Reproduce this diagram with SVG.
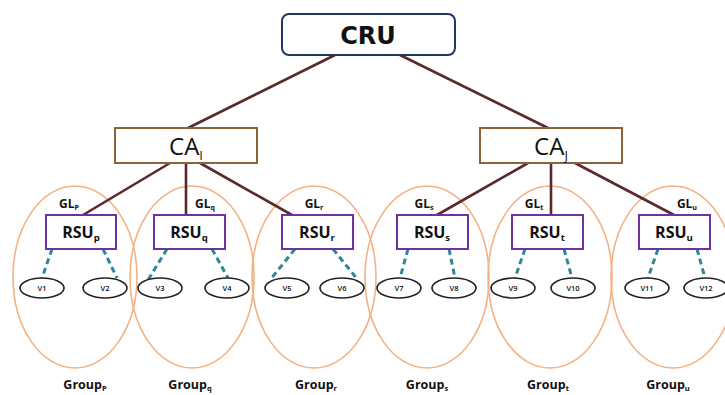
<svg xmlns="http://www.w3.org/2000/svg" width="725" height="395" viewBox="0 0 725 395">
<style>
text{font-family:"Open Sans","Liberation Sans",sans-serif;fill:#111}
.grp{fill:none;stroke:#f4b183;stroke-width:1.6}
.tree{stroke:#5a2a2a;stroke-width:2.6;fill:none}
.dash{stroke:#31859c;stroke-width:3;stroke-dasharray:6,4;fill:none}
.rsu{fill:#fff;stroke:#7030a0;stroke-width:2}
.ca{fill:#fff;stroke:#8c6239;stroke-width:2}
.v{fill:#fff;stroke:#222;stroke-width:1.6}
.rt{font-size:16px;font-weight:bold;text-anchor:middle}
.gl{font-size:12px;font-weight:bold;text-anchor:middle}
.vt{font-size:7.5px;font-weight:600;text-anchor:middle}
.gt{font-size:12.5px;font-weight:bold;text-anchor:middle}
.sub{font-size:0.6em}
</style>
<rect width="725" height="395" fill="#fff"/>
<g id="groups">
<ellipse class="grp" cx="75" cy="277" rx="62" ry="91"/>
<ellipse class="grp" cx="192" cy="277" rx="62" ry="91"/>
<ellipse class="grp" cx="314" cy="277" rx="62" ry="91"/>
<ellipse class="grp" cx="427" cy="277" rx="62" ry="91"/>
<ellipse class="grp" cx="550" cy="277" rx="62" ry="91"/>
<ellipse class="grp" cx="673" cy="277" rx="62" ry="91"/>
</g>
<g id="connectors">
<line class="tree" x1="335" y1="55" x2="188" y2="128"/>
<line class="tree" x1="400" y1="55" x2="548" y2="128"/>
<line class="tree" x1="170" y1="163" x2="83" y2="215"/>
<line class="tree" x1="186" y1="163" x2="186" y2="215"/>
<line class="tree" x1="200" y1="163" x2="292" y2="215"/>
<line class="tree" x1="528" y1="163" x2="437" y2="215"/>
<line class="tree" x1="551" y1="163" x2="551" y2="215"/>
<line class="tree" x1="575" y1="163" x2="674" y2="215"/>
<line class="dash" x1="52" y1="249" x2="42" y2="278"/>
<line class="dash" x1="103" y1="249" x2="117" y2="278"/>
<line class="dash" x1="167" y1="249" x2="148" y2="280"/>
<line class="dash" x1="212" y1="249" x2="228" y2="278"/>
<line class="dash" x1="295" y1="249" x2="270" y2="280"/>
<line class="dash" x1="333" y1="249" x2="358" y2="280"/>
<line class="dash" x1="408" y1="249" x2="400" y2="278"/>
<line class="dash" x1="449" y1="249" x2="455" y2="278"/>
<line class="dash" x1="525" y1="249" x2="515" y2="278"/>
<line class="dash" x1="564" y1="249" x2="572" y2="278"/>
<line class="dash" x1="658" y1="249" x2="648" y2="278"/>
<line class="dash" x1="697" y1="249" x2="705" y2="278"/>
</g>
<g id="CRU">
<rect x="282" y="14" width="173" height="41" rx="7" fill="#fff" stroke="#1f3864" stroke-width="2"/>
<text x="368" y="44" style="font-family:'DejaVu Sans',sans-serif;font-size:24px;font-weight:bold;text-anchor:middle">CRU</text>
</g>
<g id="CA_I">
<rect class="ca" x="115" y="128" width="142" height="35"/>
<text x="186" y="155" style="font-size:24px;text-anchor:middle">CA<tspan dy="5" style="font-size:13px">I</tspan></text>
</g>
<g id="CA_J">
<rect class="ca" x="480" y="128" width="142" height="35"/>
<text x="551" y="155" style="font-size:24px;text-anchor:middle">CA<tspan dy="5" style="font-size:13px">J</tspan></text>
</g>
<g id="RSU_p"><rect class="rsu" x="46" y="215" width="70" height="34"/><text class="rt" x="81" y="238">RSU<tspan class="sub" dy="3">p</tspan></text><text class="gl" x="69" y="208">GL<tspan class="sub" dy="2">P</tspan></text></g>
<g id="RSU_q"><rect class="rsu" x="154" y="215" width="71" height="34"/><text class="rt" x="189" y="238">RSU<tspan class="sub" dy="3">q</tspan></text><text class="gl" x="205" y="208">GL<tspan class="sub" dy="2">q</tspan></text></g>
<g id="RSU_r"><rect class="rsu" x="282" y="215" width="71" height="34"/><text class="rt" x="317" y="238">RSU<tspan class="sub" dy="3">r</tspan></text><text class="gl" x="314" y="208">GL<tspan class="sub" dy="2">r</tspan></text></g>
<g id="RSU_s"><rect class="rsu" x="397" y="215" width="71" height="34"/><text class="rt" x="432" y="238">RSU<tspan class="sub" dy="3">s</tspan></text><text class="gl" x="424" y="208">GL<tspan class="sub" dy="2">s</tspan></text></g>
<g id="RSU_t"><rect class="rsu" x="512" y="215" width="71" height="34"/><text class="rt" x="547" y="238">RSU<tspan class="sub" dy="3">t</tspan></text><text class="gl" x="534" y="208">GL<tspan class="sub" dy="2">t</tspan></text></g>
<g id="RSU_u"><rect class="rsu" x="639" y="215" width="71" height="34"/><text class="rt" x="674" y="238">RSU<tspan class="sub" dy="3">u</tspan></text><text class="gl" x="687" y="208">GL<tspan class="sub" dy="2">u</tspan></text></g>
<g id="V1"><ellipse class="v" cx="42" cy="288" rx="22" ry="10"/><text class="vt" x="42" y="291">V1</text></g>
<g id="V2"><ellipse class="v" cx="105" cy="288" rx="22" ry="10"/><text class="vt" x="105" y="291">V2</text></g>
<g id="V3"><ellipse class="v" cx="160" cy="288" rx="22" ry="10"/><text class="vt" x="160" y="291">V3</text></g>
<g id="V4"><ellipse class="v" cx="227" cy="288" rx="22" ry="10"/><text class="vt" x="227" y="291">V4</text></g>
<g id="V5"><ellipse class="v" cx="287" cy="288" rx="22" ry="10"/><text class="vt" x="287" y="291">V5</text></g>
<g id="V6"><ellipse class="v" cx="342" cy="288" rx="22" ry="10"/><text class="vt" x="342" y="291">V6</text></g>
<g id="V7"><ellipse class="v" cx="399" cy="288" rx="22" ry="10"/><text class="vt" x="399" y="291">V7</text></g>
<g id="V8"><ellipse class="v" cx="454" cy="288" rx="22" ry="10"/><text class="vt" x="454" y="291">V8</text></g>
<g id="V9"><ellipse class="v" cx="513" cy="288" rx="22" ry="10"/><text class="vt" x="513" y="291">V9</text></g>
<g id="V10"><ellipse class="v" cx="573" cy="288" rx="22" ry="10"/><text class="vt" x="573" y="291">V10</text></g>
<g id="V11"><ellipse class="v" cx="647" cy="288" rx="22" ry="10"/><text class="vt" x="647" y="291">V11</text></g>
<g id="V12"><ellipse class="v" cx="706" cy="288" rx="22" ry="10"/><text class="vt" x="706" y="291">V12</text></g>
<g id="labels">
<text class="gt" x="85" y="389">Group<tspan class="sub" dy="2">P</tspan></text>
<text class="gt" x="190" y="389">Group<tspan class="sub" dy="2">q</tspan></text>
<text class="gt" x="316" y="389">Group<tspan class="sub" dy="2">r</tspan></text>
<text class="gt" x="427" y="389">Group<tspan class="sub" dy="2">s</tspan></text>
<text class="gt" x="548" y="389">Group<tspan class="sub" dy="2">t</tspan></text>
<text class="gt" x="668" y="389">Group<tspan class="sub" dy="2">u</tspan></text>
</g>
</svg>
